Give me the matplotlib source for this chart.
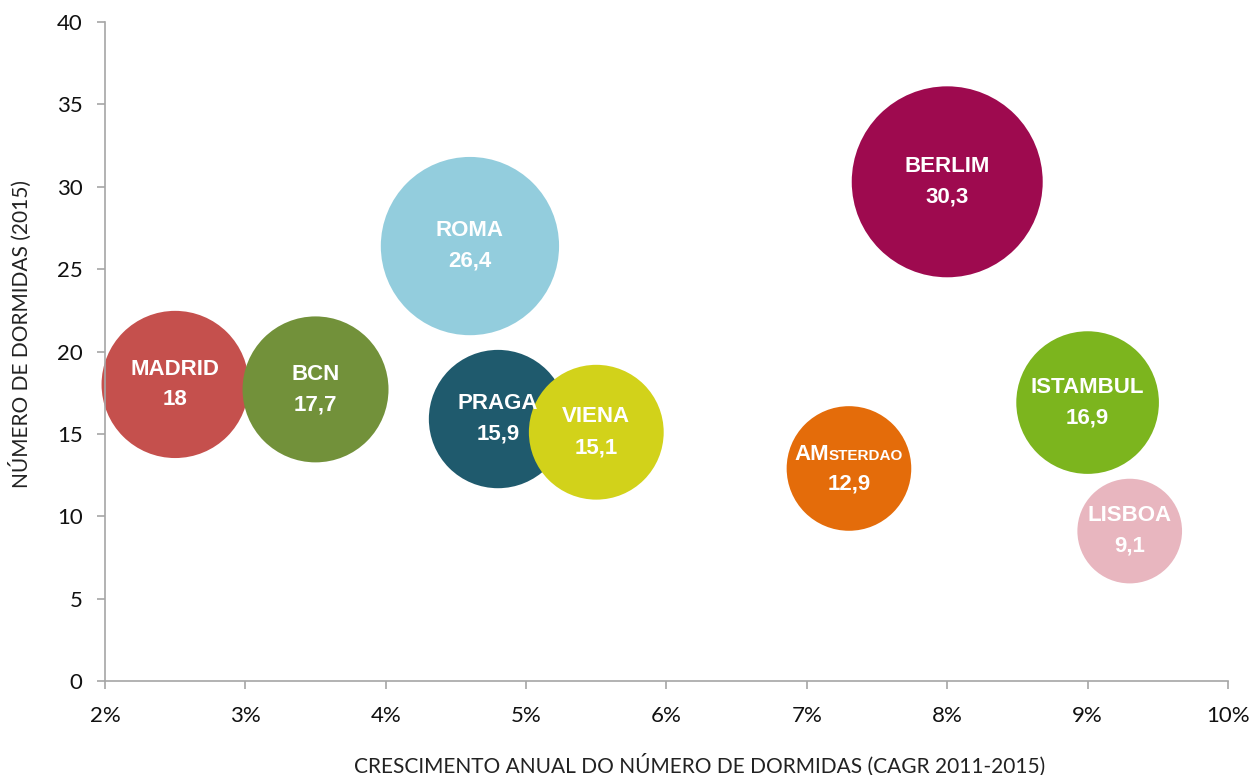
import matplotlib
matplotlib.use("Agg")
import matplotlib.pyplot as plt
from matplotlib.offsetbox import TextArea, HPacker, AnnotationBbox

# dados: cidades, crescimento anual (%), dormidas 2015 (milhões)
cidades = ["MADRID", "BCN", "ROMA", "PRAGA", "VIENA", "AMSTERDAO", "BERLIM", "ISTAMBUL", "LISBOA"]
cagr = [2.5, 3.5, 4.6, 4.8, 5.5, 7.3, 8.0, 9.0, 9.3]
dormidas = [18.0, 17.7, 26.4, 15.9, 15.1, 12.9, 30.3, 16.9, 9.1]
cores = ["#C5504D", "#72913A", "#93CDDD", "#1F5A6D", "#D2D21A",
         "#E46C0A", "#9E0A4F", "#7CB51E", "#E8B6BF"]

x_ticks = [2, 3, 4, 5, 6, 7, 8, 9, 10]
y_ticks = [0, 5, 10, 15, 20, 25, 30, 35, 40]

eixo = "#A6A6A6"
fonte_eixo = "Lato"
fonte_bolha = "Liberation Sans"

fig = plt.figure(figsize=(12.51, 7.75), dpi=100)
ax = fig.add_axes([0.0839, 0.1213, 0.8977, 0.8503])

# tamanho da bolha proporcional ao valor (área)
tamanhos = [v * 624 for v in dormidas]
for x, y, s, c in zip(cagr, dormidas, tamanhos, cores):
    ax.scatter(x, y, s=s, color=c, edgecolors="none", zorder=2, clip_on=False)

txt = dict(color="white", fontweight="bold", family=fonte_bolha, ha="center", va="center", zorder=5)
for nome, x, y in zip(cidades, cagr, dormidas):
    if nome == "AMSTERDAO":
        # versaletes: "AM" grande, resto pequeno
        partes = [TextArea("AM", textprops=dict(color="white", fontweight="bold", family=fonte_bolha, fontsize=16)),
                  TextArea("STERDAO", textprops=dict(color="white", fontweight="bold", family=fonte_bolha, fontsize=11))]
        caixa = HPacker(children=partes, align="baseline", pad=0, sep=0)
        ab = AnnotationBbox(caixa, (x, y), xybox=(0, 10), boxcoords="offset points",
                            frameon=False, box_alignment=(0.5, 0.5), zorder=5)
        ax.add_artist(ab)
    else:
        ax.annotate(nome, (x, y), xytext=(0, 11), textcoords="offset points", fontsize=16, **txt)
    valor = f"{y:g}".replace(".", ",")
    ax.annotate(valor, (x, y), xytext=(0, -11), textcoords="offset points", fontsize=16, **txt)

ax.set_xlim(2, 10)
ax.set_ylim(0, 40)
ax.set_xticks(x_ticks)
ax.set_xticklabels([f"{t}%" for t in x_ticks])
ax.set_yticks(y_ticks)

for lado in ["top", "right"]:
    ax.spines[lado].set_visible(False)
for lado in ["left", "bottom"]:
    ax.spines[lado].set_color(eixo)
    ax.spines[lado].set_linewidth(1.2)

ax.tick_params(axis="both", direction="out", length=6, width=1.2, color=eixo,
               labelsize=16, labelcolor="#111111")
ax.tick_params(axis="y", pad=10)
ax.tick_params(axis="x", pad=12)
for lbl in ax.get_xticklabels() + ax.get_yticklabels():
    lbl.set_family(fonte_eixo)

fig.text(0.5596, 0.013, "CRESCIMENTO ANUAL DO NÚMERO DE DORMIDAS (CAGR 2011-2015)",
         ha="center", va="center", fontsize=15, family=fonte_eixo, color="#222222")
fig.text(0.016, 0.5684, "NÚMERO DE DORMIDAS (2015)", rotation=90,
         ha="center", va="center", fontsize=15, family=fonte_eixo, color="#222222")

fig.savefig("out.png", dpi=100, facecolor="white")
